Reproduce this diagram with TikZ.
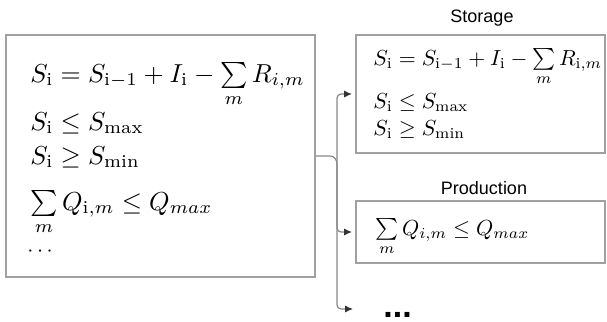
\documentclass[tikz,border=0pt]{standalone}
\usepackage{graphicx}
\usepackage{fontspec}
\newfontfamily\labelfont{Liberation Sans}
\usetikzlibrary{arrows.meta}
\definecolor{boxgray}{HTML}{A0A0A0}
\definecolor{linegray}{HTML}{888888}
\newcommand{\eqL}[1]{\scalebox{1.3}{$#1$}}
\newcommand{\eqR}[1]{\scalebox{1.09}{$#1$}}
\tikzset{
  box/.style={draw=boxgray, line width=1pt, rectangle, inner sep=0pt},
  eqnode/.style={anchor=base west, inner sep=0pt},
  lbl/.style={inner sep=0pt, font=\labelfont\fontsize{9}{11}\selectfont},
  conn/.style={draw=linegray, line width=0.6pt},
  arr/.style={conn, -{Latex[length=4pt,width=3.6pt,color=black!80]}, rounded corners=2pt, shorten >=1.5pt}
}
\begin{document}
\begin{tikzpicture}[x=0.5pt,y=-0.5pt]
\useasboundingbox (0,0) rectangle (607,322);
% boxes
\node[box, minimum width=154.5pt, minimum height=121pt] (model) at (160.5,156) {};
\node[box, minimum width=124.5pt, minimum height=59pt] (storage) at (480.5,94) {};
\node[box, minimum width=124.5pt, minimum height=31pt] (production) at (480.5,232) {};
% labels
\node[lbl] (storagelbl) at (482,18) {Storage};
\node[lbl] (productionlbl) at (484,188) {Production};
% left box equations
\node[eqnode] (m1) at (30,82) {\eqL{S_\mathrm{i} = S_{\mathrm{i}-1} + I_\mathrm{i} - \sum\limits_m R_{i,m}}};
\node[eqnode] (m2) at (30,130) {\eqL{S_\mathrm{i} \le S_\mathrm{max}}};
\node[eqnode] (m3) at (30,164) {\eqL{S_\mathrm{i} \ge S_\mathrm{min}}};
\node[eqnode] (m4) at (30,210) {\eqL{\sum\limits_m Q_{\mathrm{i},m} \le Q_{max}}};
\node[eqnode] (m5) at (27,256) {\eqR{\cdots}};
% storage equations
\node[eqnode] (s1) at (373,65) {\eqR{S_\mathrm{i} = S_{\mathrm{i}-1} + I_\mathrm{i} - \sum\limits_m R_{\mathrm{i},m}}};
\node[eqnode] (s2) at (373,108) {\eqR{S_\mathrm{i} \le S_\mathrm{max}}};
\node[eqnode] (s3) at (373,135) {\eqR{S_\mathrm{i} \ge S_\mathrm{min}}};
% production equation
\node[eqnode] (p1) at (375,235) {\eqR{\sum\limits_m Q_{i,m} \le Q_{max}}};
% more
\node[anchor=west, inner ysep=0pt, inner xsep=13.5pt, text height=9pt, text depth=1pt, font=\labelfont\bfseries\fontsize{17}{19}\selectfont] (more) at (356,309) {...};
% connector
\coordinate (j) at (337,164);
\draw[conn] (model.east) -- ++(14,0) to[out=0,in=90] (j);
\draw[arr] (j) |- (storage.west);
\draw[arr] (j) |- (production.west);
\draw[arr] (j) |- (more.west);
\end{tikzpicture}
\end{document}
